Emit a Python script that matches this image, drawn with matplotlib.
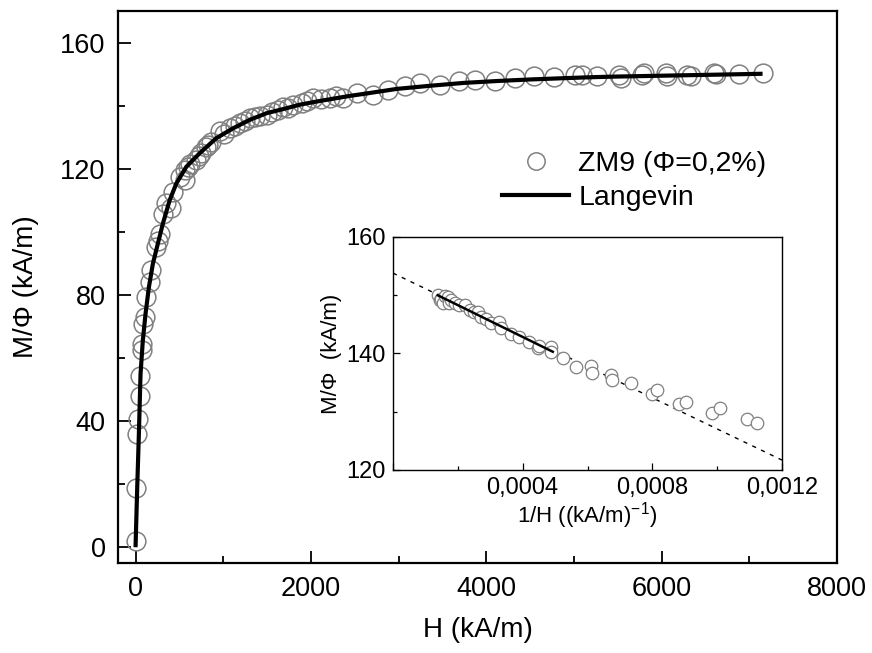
import matplotlib
matplotlib.use("Agg")
import matplotlib.pyplot as plt
from matplotlib.ticker import MultipleLocator, FuncFormatter
from matplotlib.lines import Line2D

plt.rcParams['font.family'] = ['Liberation Sans', 'DejaVu Sans']
plt.rcParams['mathtext.fontset'] = 'custom'
plt.rcParams['mathtext.rm'] = 'Liberation Sans'
plt.rcParams['mathtext.it'] = 'Liberation Sans:italic'
plt.rcParams['mathtext.bf'] = 'Liberation Sans:bold'

# ---- main data: ZM9 (Phi = 0,2 %) ----
H_data = [5, 8, 22, 25, 46, 48, 70, 72, 84, 103, 122, 160, 180, 236, 255, 274,
          312, 350, 400, 427, 503, 560, 565, 598, 620, 694, 720, 750, 800, 830,
          865, 960, 1010, 1074, 1130, 1189, 1250, 1303, 1360, 1417, 1494, 1560,
          1626, 1680, 1740, 1800, 1894, 1960, 2026, 2120, 2217, 2290, 2369,
          2522, 2712, 2884, 3074, 3246, 3474, 3684, 3874, 4103, 4331, 4541,
          4770, 5017, 5093, 5265, 5512, 5531, 5779, 5798, 6046, 6065, 6293,
          6331, 6598, 6617, 6883, 7151]
M_data = [2.0, 18.8, 35.8, 40.8, 48.0, 54.3, 62.5, 64.4, 70.8, 72.9, 79.3, 84.0,
          87.8, 95.2, 97.0, 99.4, 105.8, 109.0, 107.5, 112.7, 117.5, 116.4, 119.6,
          120.6, 121.5, 122.8, 124.0, 124.9, 127.0, 127.5, 128.6, 131.8, 131.0,
          132.8, 133.5, 134.4, 135.0, 136.0, 136.4, 136.6, 137.1, 138.0, 138.7,
          139.5, 139.2, 140.2, 140.8, 141.4, 142.4, 142.0, 142.4, 143.0, 142.4,
          144.0, 143.5, 145.1, 146.1, 147.2, 146.6, 147.7, 148.2, 147.7, 148.8,
          149.3, 149.1, 149.8, 149.8, 149.5, 149.8, 148.8, 149.8, 150.4, 150.4,
          149.3, 149.8, 149.3, 150.4, 150.0, 150.1, 150.4]

# ---- Langevin fit curve ----
H_fit = [0, 19, 38, 57, 83, 114, 152, 198, 255, 312, 389, 465, 579, 731, 922,
         1112, 1303, 1494, 1683, 1874, 2065, 2255, 2446, 2598, 2979, 3360,
         3741, 4122, 4503, 4884, 5189, 5455, 5836, 6217, 6598, 7151]
M_fit = [0.0, 18.8, 35.8, 54.9, 65.5, 74.0, 82.4, 89.9, 96.3, 102.6, 110.0,
         115.3, 120.6, 124.9, 129.7, 132.8, 135.5, 137.6, 138.9, 140.3, 141.3,
         142.2, 143.1, 143.7, 145.3, 146.3, 147.2, 147.8, 148.3, 148.7, 149.0,
         149.2, 149.4, 149.6, 149.8, 150.1]

# ---- inset data: M/Phi vs 1/H ----
invH_data = [0.000138, 0.000144, 0.000149, 0.000154, 0.000159, 0.000169,
             0.000174, 0.000180, 0.000190, 0.000205, 0.000221, 0.000236,
             0.000251, 0.000262, 0.000272, 0.000287, 0.000303, 0.000328,
             0.000334, 0.000364, 0.000390, 0.000421, 0.000446, 0.000451,
             0.000487, 0.000487, 0.000523, 0.000564, 0.000610, 0.000615,
             0.000672, 0.000677, 0.000733, 0.000800, 0.000815, 0.000882,
             0.000903, 0.000985, 0.001010, 0.001092, 0.001123]
Minv_data = [150.0, 149.1, 149.3, 148.6, 149.8, 149.7, 148.6, 149.1, 148.6,
             148.3, 148.3, 147.4, 147.1, 147.1, 146.3, 146.0, 145.2, 145.4,
             144.3, 143.4, 142.9, 142.0, 140.9, 141.3, 141.1, 140.3, 139.3,
             137.7, 137.8, 136.6, 136.3, 135.4, 134.9, 133.1, 133.7, 131.4,
             131.7, 129.7, 130.6, 128.7, 128.1]
fit_invH = [0.000138, 0.000493]
fit_M = [150.0, 140.3]
ext_invH = [0.0, 0.0012]
ext_M = [153.8, 121.7]

labels_legend = ['ZM9 (\u03a6=0,2%)', 'Langevin']

W, Hh = 872, 653
fig = plt.figure(figsize=(W / 100, Hh / 100), dpi=100)

L, R, T, B = 118, 837, 11, 563
ax = fig.add_axes([L / W, 1 - B / Hh, (R - L) / W, (B - T) / Hh])
gray = '#808080'
ax.plot(H_data, M_data, linestyle='none', marker='o', ms=13.5, mfc='none',
        mec=gray, mew=1.1, zorder=2)
ax.plot(H_fit, M_fit, color='black', lw=3.0, solid_capstyle='butt', zorder=3)
ax.set_xlim(-200, 8000)
ax.set_ylim(-5, 170)
ax.xaxis.set_major_locator(MultipleLocator(2000))
ax.xaxis.set_minor_locator(MultipleLocator(1000))
ax.yaxis.set_major_locator(MultipleLocator(40))
ax.yaxis.set_minor_locator(MultipleLocator(20))
ax.tick_params(which='both', direction='in', width=1.3, labelsize=19.5)
ax.tick_params(which='major', length=9)
ax.tick_params(axis='x', which='major', pad=9)
ax.tick_params(axis='y', which='major', pad=9)
ax.tick_params(which='minor', length=5)
for s in ax.spines.values():
    s.set_linewidth(1.6)
ax.set_xlabel('H (kA/m)', fontsize=20, labelpad=11)
ax.set_ylabel('M/\u03a6 (kA/m)', fontsize=20, labelpad=15)

handles = [Line2D([], [], linestyle='none', marker='o', ms=12.5, mfc='none',
                  mec=gray, mew=1.1),
           Line2D([], [], color='black', lw=3.0)]
ax.legend(handles, labels_legend, loc='upper left',
          bbox_to_anchor=(0.563, 0.786), bbox_transform=fig.transFigure,
          frameon=False, fontsize=20.5, handlelength=2.35, handletextpad=0.32,
          labelspacing=0.28, borderaxespad=0)

# ---- inset ----
iL, iR, iT, iB = 393, 782, 237, 470
axi = fig.add_axes([iL / W, 1 - iB / Hh, (iR - iL) / W, (iB - iT) / Hh])
axi.set_facecolor('white')
axi.plot(ext_invH, ext_M, color='black', lw=1.0, linestyle=(0, (3, 4)), zorder=1)
axi.plot(invH_data, Minv_data, linestyle='none', marker='o', ms=9, mfc='white',
         mec=gray, mew=0.9, zorder=2)
axi.plot(fit_invH, fit_M, color='black', lw=1.8, zorder=3)
axi.set_xlim(0, 0.0012)
axi.set_ylim(120, 160)
axi.xaxis.set_major_locator(MultipleLocator(0.0004))
axi.xaxis.set_minor_locator(MultipleLocator(0.0002))
axi.yaxis.set_major_locator(MultipleLocator(20))
axi.yaxis.set_minor_locator(MultipleLocator(10))
axi.xaxis.set_major_formatter(FuncFormatter(
    lambda v, p: '' if abs(v) < 1e-9 else ('%.4f' % v).replace('.', ',')))
axi.tick_params(which='both', direction='in', width=0.9, labelsize=17)
axi.tick_params(which='major', length=5, pad=5)
axi.tick_params(which='minor', length=3)
for s in axi.spines.values():
    s.set_linewidth(1.0)
axi.set_xlabel('1/H ((kA/m)$^{-1}$)', fontsize=16, labelpad=1)
axi.set_ylabel('M/\u03a6  (kA/m)', fontsize=16, labelpad=3)

fig.savefig('out.png', dpi=100)
